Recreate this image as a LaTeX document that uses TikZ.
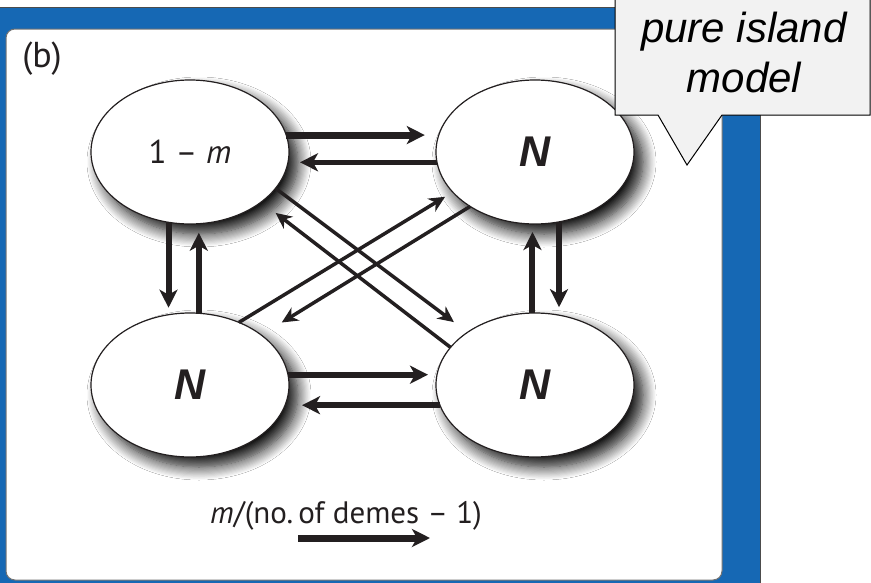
\documentclass[tikz,border=0pt]{standalone}
\usepackage{fontspec}
\setmainfont{PT Sans}
\newfontfamily\arialfont{Liberation Sans}
\usetikzlibrary{arrows.meta,shapes.geometric,shadows.blur}

\definecolor{panelblue}{RGB}{22,104,180}
\definecolor{ink}{RGB}{35,31,32}
\definecolor{notegray}{RGB}{242,242,242}

\begin{document}
\begin{tikzpicture}[x=1pt,y=-1pt,color=ink,
    deme/.style={ellipse,draw=ink,line width=1.2pt,fill=white,
      minimum width=198pt,minimum height=144pt,inner sep=0pt,outer sep=0pt,
      blur shadow={shadow xshift=9pt,shadow yshift=-10pt,
        shadow blur radius=13pt,shadow blur steps=12,shadow opacity=95}},
    flow/.style={draw=ink,line width=6pt,
      -{Stealth[length=18pt,width=18pt,inset=5pt]}},
    thinflow/.style={draw=ink,line width=3.5pt,
      -{Stealth[length=16pt,width=15pt,inset=5pt]}}]

      \useasboundingbox (0,0) rectangle (871,582);

      % frame
      \filldraw[fill=panelblue,draw=black!70,line width=0.8pt] (-2,7) rectangle (760,590);
      \filldraw[fill=white,draw=black!55,line width=1pt,rounded corners=9pt] (6,29) rectangle (722,580);

      \node (panel) at (42,59) {\fontsize{36}{42}\selectfont (b)};

      \begin{scope}[every node/.style={deme}]
        \node (d1) at (190,152) {\fontsize{33}{38}\selectfont 1 -- \textit{m}};
        \node (d2) at (535,152) {\arialfont\bfseries\itshape\fontsize{43}{48}\selectfont N};
        \node (d3) at (190,385) {\arialfont\bfseries\itshape\fontsize{43}{48}\selectfont N};
        \node (d4) at (535,385) {\arialfont\bfseries\itshape\fontsize{43}{48}\selectfont N};
      \end{scope}

      \begin{scope}[every edge/.style={flow}]
        \path (d1.10)  edge[line width=7pt,shorten >=14pt] (d2.170);
        \path (d2.186) edge[line width=5pt,shorten >=12pt] (d1.354);
        \path (d3.6)   edge[shorten >=9pt]  (d4.174);
        \path (d4.192) edge[shorten >=17pt] (d3.348);
        \path (d1.253) edge[shorten >=7pt]  (d3.107);
        \path (d3.83)  edge[shorten >=9pt]  (d1.277);
        \path (d4.92)  edge[shorten >=8pt]  (d2.268);
        \path (d2.289) edge[shorten >=8pt]  (d4.71);
      \end{scope}

      \begin{scope}[every edge/.style={thinflow}]
        \path (d1.337) edge[shorten >=17pt] (d4.142);
        \path (d4.156) edge[shorten >=18pt] (d1.325);
        \path (d3.52)  edge[shorten >=9pt]  (d2.206);
        \path (d2.220) edge[shorten >=24pt] (d3.35);
      \end{scope}

      % key
      \node (key) at (346,516) {\fontsize{31}{36}\selectfont \textit{m}/(no.\,of demes -- 1)};
      \coordinate (k1) at (298,538);
      \coordinate (k2) at (430,538);
      \draw[flow,line width=7pt] (k1) -- (k2);

      % callout
      \filldraw[fill=notegray,draw=black,line width=1pt]
        (615,-5) -- (870,-5) -- (870,115) -- (722,115) -- (687,165) -- (658,115) -- (615,115) -- cycle;
      \node[anchor=north,inner sep=0pt,align=center,text=black,
        font=\arialfont\itshape\fontsize{42}{50}\selectfont] (note) at (744,12) {pure island\\model};

    \end{tikzpicture}
\end{document}
